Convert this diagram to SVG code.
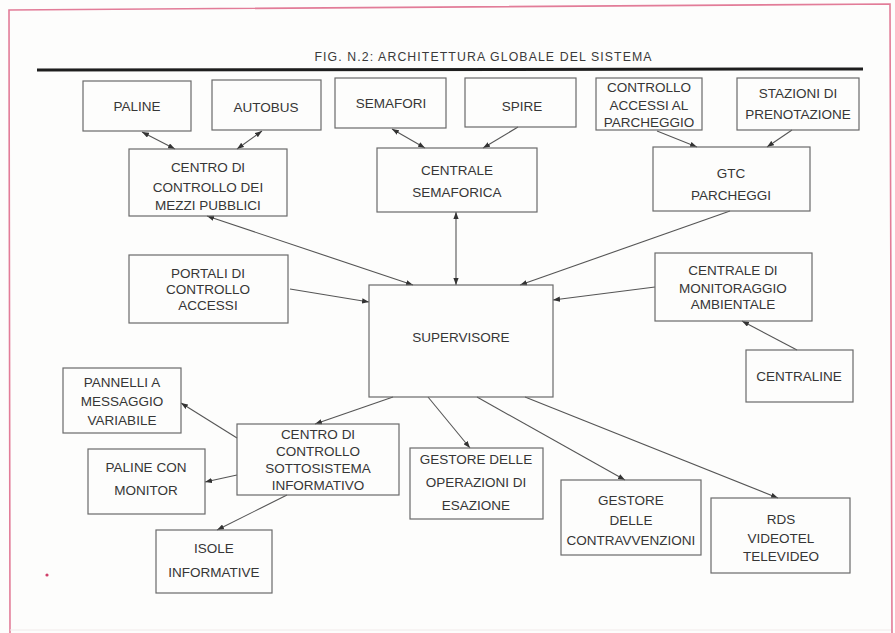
<svg xmlns="http://www.w3.org/2000/svg" width="895" height="633" viewBox="0 0 895 633">
<style>
.bx{fill:none;stroke:#6a6a6a;stroke-width:1.2}
.t{font-family:"Liberation Sans",Arial,sans-serif;font-size:13.5px;fill:#363636;text-anchor:middle}
.c{fill:none;stroke:#555;stroke-width:1.1}
</style>
<defs>
<marker id="ah" viewBox="0 0 8 6" refX="8" refY="3" markerWidth="7" markerHeight="5.5" markerUnits="userSpaceOnUse" orient="auto-start-reverse"><path d="M0,0 L8,3 L0,6 z" fill="#333"/></marker>
</defs>
<rect width="895" height="633" fill="#fdfdfc"/>
<path d="M10,633 L9,10 L890,4 L892,633" fill="none" stroke="#e27c98" stroke-width="1.6"/>
<line x1="10" y1="630" x2="891" y2="630" stroke="#f0eaea" stroke-width="1"/>
<circle cx="47" cy="575" r="1.6" fill="#d0406a"/>
<text x="483" y="61" font-family="Liberation Sans,Arial,sans-serif" font-size="12.3" fill="#3a3a3a" text-anchor="middle" textLength="337" lengthAdjust="spacing">FIG. N.2: ARCHITETTURA GLOBALE DEL SISTEMA</text>
<line x1="37" y1="70" x2="863" y2="69" stroke="#1e1e1e" stroke-width="3"/>

<g id="connectors">
<line class="c" x1="142" y1="132" x2="175" y2="149" marker-start="url(#ah)" marker-end="url(#ah)"/>
<line class="c" x1="262" y1="131" x2="237" y2="149" marker-start="url(#ah)" marker-end="url(#ah)"/>
<line class="c" x1="392" y1="129" x2="425" y2="148" marker-start="url(#ah)" marker-end="url(#ah)"/>
<line class="c" x1="518" y1="127" x2="483" y2="148" marker-end="url(#ah)"/>
<line class="c" x1="657" y1="131" x2="697" y2="147" marker-end="url(#ah)"/>
<line class="c" x1="792" y1="130" x2="767" y2="147" marker-end="url(#ah)"/>
<line class="c" x1="207" y1="216" x2="413" y2="285" marker-start="url(#ah)" marker-end="url(#ah)"/>
<line class="c" x1="456" y1="212" x2="456" y2="285" marker-start="url(#ah)" marker-end="url(#ah)"/>
<line class="c" x1="730" y1="211" x2="520" y2="285" marker-end="url(#ah)"/>
<line class="c" x1="290" y1="289" x2="369" y2="302" marker-end="url(#ah)"/>
<line class="c" x1="655" y1="287" x2="553" y2="300" marker-end="url(#ah)"/>
<line class="c" x1="797" y1="350" x2="742" y2="321" marker-end="url(#ah)"/>
<line class="c" x1="393" y1="397" x2="315" y2="424" marker-end="url(#ah)"/>
<line class="c" x1="237" y1="438" x2="181" y2="403" marker-end="url(#ah)"/>
<line class="c" x1="237" y1="475" x2="205" y2="482" marker-end="url(#ah)"/>
<line class="c" x1="287" y1="495" x2="217" y2="530" marker-end="url(#ah)"/>
<line class="c" x1="428" y1="397" x2="470" y2="448" marker-end="url(#ah)"/>
<line class="c" x1="477" y1="397" x2="625" y2="480" marker-end="url(#ah)"/>
<line class="c" x1="525" y1="397" x2="778" y2="498" marker-end="url(#ah)"/>
</g>

<g id="paline"><rect class="bx" x="83" y="81" width="108" height="50"/><text class="t" x="137" y="111">PALINE</text></g>
<g id="autobus"><rect class="bx" x="212" y="80" width="109" height="50"/><text class="t" x="266" y="112">AUTOBUS</text></g>
<g id="semafori"><rect class="bx" x="335" y="78" width="111" height="50"/><text class="t" x="391" y="108">SEMAFORI</text></g>
<g id="spire"><rect class="bx" x="465" y="78" width="111" height="49"/><text class="t" x="522" y="111">SPIRE</text></g>
<g id="controllo-accessi"><rect class="bx" x="596" y="78" width="106" height="52"/><text class="t" x="649" y="92">CONTROLLO</text><text class="t" x="649" y="110">ACCESSI AL</text><text class="t" x="649" y="127">PARCHEGGIO</text></g>
<g id="stazioni"><rect class="bx" x="737" y="78" width="122" height="52"/><text class="t" x="798" y="98">STAZIONI DI</text><text class="t" x="798" y="119">PRENOTAZIONE</text></g>
<g id="centro-mezzi"><rect class="bx" x="129" y="149" width="158" height="67"/><text class="t" x="208" y="172">CENTRO DI</text><text class="t" x="208" y="192">CONTROLLO DEI</text><text class="t" x="208" y="210">MEZZI PUBBLICI</text></g>
<g id="centrale-semaforica"><rect class="bx" x="377" y="148" width="160" height="64"/><text class="t" x="457" y="175">CENTRALE</text><text class="t" x="457" y="197">SEMAFORICA</text></g>
<g id="gtc"><rect class="bx" x="653" y="147" width="157" height="64"/><text class="t" x="731" y="178">GTC</text><text class="t" x="731" y="200">PARCHEGGI</text></g>
<g id="portali"><rect class="bx" x="129" y="255" width="159" height="68"/><text class="t" x="208" y="278">PORTALI DI</text><text class="t" x="208" y="294">CONTROLLO</text><text class="t" x="208" y="310">ACCESSI</text></g>
<g id="supervisore"><rect class="bx" x="369" y="285" width="184" height="112"/><text class="t" x="461" y="342">SUPERVISORE</text></g>
<g id="monitoraggio"><rect class="bx" x="655" y="253" width="157" height="68"/><text class="t" x="733" y="275">CENTRALE DI</text><text class="t" x="733" y="293">MONITORAGGIO</text><text class="t" x="733" y="309">AMBIENTALE</text></g>
<g id="centraline"><rect class="bx" x="746" y="350" width="107" height="52"/><text class="t" x="799" y="381">CENTRALINE</text></g>
<g id="pannelli"><rect class="bx" x="63" y="368" width="118" height="65"/><text class="t" x="122" y="387">PANNELLI A</text><text class="t" x="122" y="406">MESSAGGIO</text><text class="t" x="122" y="425">VARIABILE</text></g>
<g id="centro-sottosistema"><rect class="bx" x="237" y="424" width="162" height="71"/><text class="t" x="318" y="439">CENTRO DI</text><text class="t" x="318" y="456">CONTROLLO</text><text class="t" x="318" y="473">SOTTOSISTEMA</text><text class="t" x="318" y="490">INFORMATIVO</text></g>
<g id="paline-monitor"><rect class="bx" x="88" y="449" width="117" height="65"/><text class="t" x="146" y="472">PALINE CON</text><text class="t" x="146" y="495">MONITOR</text></g>
<g id="isole"><rect class="bx" x="156" y="530" width="116" height="63"/><text class="t" x="214" y="553">ISOLE</text><text class="t" x="214" y="577">INFORMATIVE</text></g>
<g id="gestore-esazione"><rect class="bx" x="410" y="448" width="133" height="71"/><text class="t" x="476" y="464">GESTORE DELLE</text><text class="t" x="476" y="487">OPERAZIONI DI</text><text class="t" x="476" y="510">ESAZIONE</text></g>
<g id="gestore-contravvenzioni"><rect class="bx" x="561" y="480" width="140" height="75"/><text class="t" x="631" y="505">GESTORE</text><text class="t" x="631" y="525">DELLE</text><text class="t" x="631" y="545">CONTRAVVENZIONI</text></g>
<g id="rds"><rect class="bx" x="711" y="498" width="139" height="75"/><text class="t" x="781" y="524">RDS</text><text class="t" x="781" y="543">VIDEOTEL</text><text class="t" x="781" y="561">TELEVIDEO</text></g>
</svg>
